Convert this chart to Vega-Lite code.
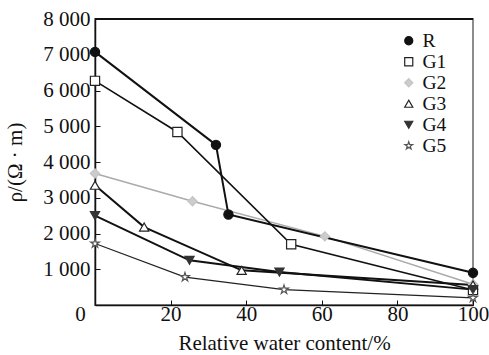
{
  "$schema": "https://vega.github.io/schema/vega-lite/v6.json",
  "width": 378,
  "height": 286,
  "autosize": {"type": "none"},
  "padding": {"left": 95, "top": 19, "right": 16, "bottom": 50},
  "config": {
    "view": {"stroke": "#8c8c8c", "strokeWidth": 2},
    "font": "Liberation Serif",
    "axis": {"labelFont": "Liberation Serif", "titleFont": "Liberation Serif"}
  },
  "data": {
    "values": [
      {"s": "R", "w": 0, "rho": 7080},
      {"s": "R", "w": 32, "rho": 4480},
      {"s": "R", "w": 35.3, "rho": 2530},
      {"s": "R", "w": 100, "rho": 900},
      {"s": "G1", "w": 0, "rho": 6270},
      {"s": "G1", "w": 21.8, "rho": 4840},
      {"s": "G1", "w": 51.9, "rho": 1700},
      {"s": "G1", "w": 100, "rho": 420},
      {"s": "G2", "w": 0, "rho": 3680},
      {"s": "G2", "w": 25.8, "rho": 2900},
      {"s": "G2", "w": 60.8, "rho": 1920},
      {"s": "G2", "w": 100, "rho": 580},
      {"s": "G3", "w": 0, "rho": 3350},
      {"s": "G3", "w": 13, "rho": 2180},
      {"s": "G3", "w": 38.8, "rho": 970},
      {"s": "G3", "w": 100, "rho": 560},
      {"s": "G4", "w": 0, "rho": 2500},
      {"s": "G4", "w": 25, "rho": 1250},
      {"s": "G4", "w": 48.8, "rho": 920},
      {"s": "G4", "w": 100, "rho": 430},
      {"s": "G5", "w": 0, "rho": 1720},
      {"s": "G5", "w": 23.8, "rho": 780},
      {"s": "G5", "w": 50, "rho": 430},
      {"s": "G5", "w": 100, "rho": 200}
    ]
  },
  "encoding": {
    "x": {
      "field": "w",
      "type": "quantitative",
      "scale": {"domain": [0, 100], "nice": false},
      "axis": {
        "values": [0, 20, 40, 60, 80, 100],
        "grid": false,
        "domainColor": "#111",
        "domainWidth": 1.5,
        "tickColor": "#111",
        "tickWidth": 1,
        "tickSize": -5,
        "labelFont": "Liberation Serif",
        "labelFontSize": 21,
        "labelColor": "#111",
        "labelPadding": 3,
        "labelOffset": {"condition": {"test": "datum.value === 0", "value": -15}, "value": 0},
        "labelFlush": false,
        "title": "Relative water content/%",
        "titleFontSize": 21,
        "titleFontWeight": "normal",
        "titleColor": "#111",
        "titlePadding": 8
      }
    },
    "y": {
      "field": "rho",
      "type": "quantitative",
      "scale": {"domain": [0, 8000], "nice": false},
      "axis": {
        "values": [1000, 2000, 3000, 4000, 5000, 6000, 7000, 8000],
        "labelExpr": "replace(format(datum.value, ','), ',', ' ')",
        "grid": false,
        "domainColor": "#111",
        "domainWidth": 1.5,
        "tickColor": "#111",
        "tickWidth": 1,
        "tickSize": -5,
        "labelFont": "Liberation Serif",
        "labelFontSize": 21,
        "labelColor": "#111",
        "labelPadding": 10,
        "title": "ρ/(Ω · m)",
        "titleFontSize": 21,
        "titleFontWeight": "normal",
        "titleColor": "#111",
        "titlePadding": 17
      }
    }
  },
  "layer": [
    {
      "mark": {"type": "rule", "color": "#111", "strokeWidth": 1.5},
      "encoding": {"y": {"datum": 8000}, "x": null}
    },
    {
      "transform": [{"filter": {"field": "s", "oneOf": ["G2"]}}],
      "mark": {"type": "line", "color": "#aaaaaa", "strokeWidth": 1.5},
      "encoding": {"detail": {"field": "s", "type": "nominal"}}
    },
    {
      "transform": [{"filter": {"field": "s", "oneOf": ["G5"]}}],
      "mark": {"type": "line", "color": "#222222", "strokeWidth": 1.2},
      "encoding": {"detail": {"field": "s", "type": "nominal"}}
    },
    {
      "transform": [{"filter": {"field": "s", "oneOf": ["G1"]}}],
      "mark": {"type": "line", "color": "#111111", "strokeWidth": 1.6},
      "encoding": {"detail": {"field": "s", "type": "nominal"}}
    },
    {
      "transform": [{"filter": {"field": "s", "oneOf": ["R", "G3", "G4"]}}],
      "mark": {"type": "line", "color": "#111111", "strokeWidth": 2},
      "encoding": {"detail": {"field": "s", "type": "nominal"}}
    },
    {
      "mark": {"type": "point", "filled": true, "opacity": 1, "size": 85, "strokeWidth": 1.2},
      "encoding": {
        "shape": {
          "field": "s",
          "type": "nominal",
          "scale": {"domain": ["R", "G1", "G2", "G3", "G4", "G5"], "range": ["circle", "square", "diamond", "triangle-up", "triangle-down", "M0,-1L0.223,-0.307L0.951,-0.309L0.361,0.117L0.588,0.809L0,0.38L-0.588,0.809L-0.361,0.117L-0.951,-0.309L-0.223,-0.307Z"]},
          "legend": {
            "title": null,
            "orient": "none",
            "legendX": 304,
            "legendY": 12,
            "labelFont": "Liberation Serif",
            "labelFontSize": 19.5,
            "labelColor": "#111",
            "symbolSize": 65,
            "symbolStrokeWidth": 1.2,
            "rowPadding": 0,
            "labelOffset": 4
          }
        },
        "fill": {
          "field": "s",
          "type": "nominal",
          "scale": {"domain": ["R", "G1", "G2", "G3", "G4", "G5"], "range": ["#111111", "#ffffff", "#cccccc", "#ffffff", "#333333", "#ffffff"]},
          "legend": {
            "title": null,
            "orient": "none",
            "legendX": 304,
            "legendY": 12,
            "labelFont": "Liberation Serif",
            "labelFontSize": 19.5,
            "labelColor": "#111",
            "symbolSize": 65,
            "symbolStrokeWidth": 1.2,
            "rowPadding": 0,
            "labelOffset": 4
          }
        },
        "stroke": {
          "field": "s",
          "type": "nominal",
          "scale": {"domain": ["R", "G1", "G2", "G3", "G4", "G5"], "range": ["#111111", "#222222", "#c4c4c4", "#222222", "#333333", "#555555"]},
          "legend": {
            "title": null,
            "orient": "none",
            "legendX": 304,
            "legendY": 12,
            "labelFont": "Liberation Serif",
            "labelFontSize": 19.5,
            "labelColor": "#111",
            "symbolSize": 65,
            "symbolStrokeWidth": 1.2,
            "rowPadding": 0,
            "labelOffset": 4
          }
        }
      }
    }
  ]
}
